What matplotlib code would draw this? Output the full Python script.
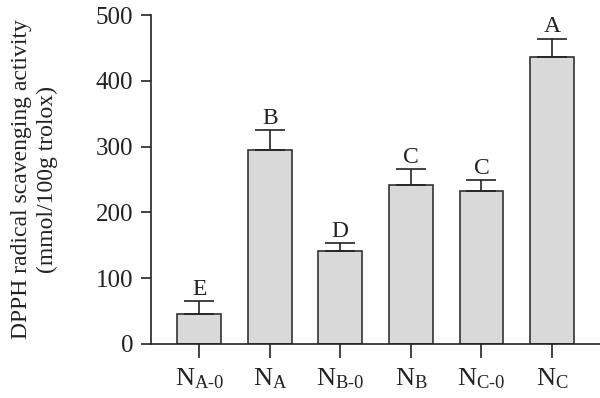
import matplotlib

matplotlib.use("Agg")
import matplotlib.pyplot as plt
import numpy as np

plt.rcParams["font.family"] = ["Liberation Serif", "DejaVu Serif"]
plt.rcParams["mathtext.fontset"] = "custom"
plt.rcParams["mathtext.rm"] = "Liberation Serif"
plt.rcParams["mathtext.it"] = "Liberation Serif:italic"

categories = [r"$\mathrm{N_{A\text{-}0}}$", r"$\mathrm{N_A}$", r"$\mathrm{N_{B\text{-}0}}$",
              r"$\mathrm{N_B}$", r"$\mathrm{N_{C\text{-}0}}$", r"$\mathrm{N_C}$"]
values = [45, 295, 141, 242, 232, 436]
errors = [20, 30, 12, 24, 17, 28]
letters = ["E", "B", "D", "C", "C", "A"]

fig = plt.figure(figsize=(6.0, 3.98), dpi=100)
ax = fig.add_axes([0.252, 0.136, 0.748, 0.826])

x = np.arange(len(values))
ax.bar(x, values, width=0.62, color="#d9d9d9", edgecolor="#333333", linewidth=1.2,
       yerr=[np.zeros(len(errors)), errors], capsize=11,
       error_kw=dict(elinewidth=1.2, capthick=1.2, ecolor="#222222"))

for xi, v, e, lab in zip(x, values, errors, letters):
    ax.text(xi, v + e + 2, lab, ha="center", va="bottom", fontsize=17, color="#222222")

ax.set_xlim(-0.68, 5.68)
ax.set_ylim(0, 500)
ax.set_yticks([0, 100, 200, 300, 400, 500])
ax.set_xticks(x)
ax.set_xticklabels(categories, fontsize=19)
ax.tick_params(axis="y", labelsize=18, length=7, width=1.2, pad=6, direction="out", colors="#222222")
ax.tick_params(axis="x", length=10, width=1.2, direction="out", pad=6, colors="#222222")

for side in ("top", "right"):
    ax.spines[side].set_visible(False)
for side in ("left", "bottom"):
    ax.spines[side].set_linewidth(1.2)
    ax.spines[side].set_color("#222222")

ax.set_ylabel("DPPH radical scavenging activity\n(mmol/100g trolox)", fontsize=17,
              linespacing=1.3, labelpad=27, color="#222222")

fig.savefig("out.png", dpi=100)
